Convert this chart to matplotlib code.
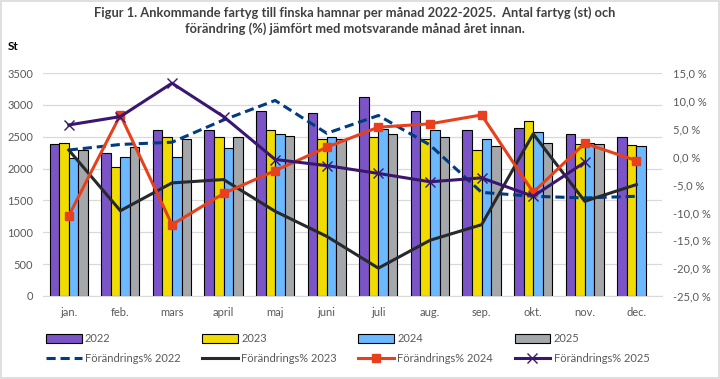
import numpy as np
import matplotlib
matplotlib.use("Agg")
from matplotlib import pyplot as plt

plt.rcParams['font.family'] = ['Lato', 'DejaVu Sans']

months = ['jan.', 'feb.', 'mars', 'april', 'maj', 'juni', 'juli', 'aug.', 'sep.', 'okt.', 'nov.', 'dec.']

# antal fartyg (st)
st_2022 = [2390, 2250, 2610, 2600, 2910, 2880, 3130, 2910, 2610, 2640, 2550, 2500]
st_2023 = [2410, 2030, 2490, 2490, 2610, 2460, 2500, 2470, 2290, 2750, 2390, 2370]
st_2024 = [2160, 2190, 2190, 2330, 2550, 2500, 2620, 2610, 2460, 2570, 2410, 2350]
st_2025 = [2290, 2340, 2470, 2490, 2520, 2470, 2550, 2500, 2360, 2400, 2380, np.nan]

# förändring (%)
pct_2022 = [1.2, 2.2, 2.6, 6.6, 10.1, 4.2, 7.4, 2.1, -6.4, -7.1, -7.4, -7.1]
pct_2023 = [1.2, -9.7, -4.7, -4.1, -9.8, -14.3, -20.0, -15.0, -12.2, 4.1, -8.0, -5.0]
pct_2024 = [-10.6, 7.5, -12.2, -6.6, -2.5, 1.7, 5.3, 5.9, 7.5, -6.4, 2.4, -0.7]
pct_2025 = [5.7, 7.2, 13.2, 7.2, -0.5, -1.6, -3.0, -4.5, -3.8, -7.1, -1.0, np.nan]

bar_colors = ['#7B55C7', '#F0DC00', '#6DB9FF', '#A5A8AA']
line_colors = ['#003C82', '#262A2E', '#E8401C', '#3A1670']

fig = plt.figure(figsize=(7.2, 3.79), dpi=100)
ax = fig.add_axes([0.0597, 0.219, 0.860, 0.588])
ax2 = ax.twinx()

x = np.arange(len(months))
w = 0.185
bars = []
for i, (vals, c, lab) in enumerate(zip([st_2022, st_2023, st_2024, st_2025], bar_colors,
                                      ['2022', '2023', '2024', '2025'])):
    b = ax.bar(x + (i - 1.5) * w, vals, w, color=c, edgecolor='black', linewidth=0.8, label=lab, zorder=2)
    bars.append(b)

ax.set_xlim(-0.5, 11.5)
ax.set_ylim(0, 3500)
ax.set_yticks(np.arange(0, 3501, 500))
ax.grid(axis='y', color='#D9D9D9', linewidth=0.9, zorder=0)
ax.set_axisbelow(True)
ax.set_xticks(x)
ax.set_xticklabels(months)
ax.tick_params(length=0, labelsize=8, labelcolor='#595959', pad=8)
ax.tick_params(axis='y', pad=7)

l1, = ax2.plot(x, pct_2022, color=line_colors[0], lw=2.2, ls=(0, (3, 1.6)), label='Förändrings% 2022')
l2, = ax2.plot(x, pct_2023, color=line_colors[1], lw=2.2, label='Förändrings% 2023')
l3, = ax2.plot(x, pct_2024, color=line_colors[2], lw=2.2, marker='s', ms=6, label='Förändrings% 2024')
l4, = ax2.plot(x, pct_2025, color=line_colors[3], lw=2.2, marker='x', ms=7, mew=1.0, label='Förändrings% 2025')
lines = [l1, l2, l3, l4]

ax2.set_ylim(-25, 15)
ax2.set_yticks(np.arange(-25, 16, 5))
ax2.set_yticklabels([('%.1f %%' % v).replace('.', ',') for v in np.arange(-25, 16, 5)])
ax2.tick_params(length=0, labelsize=8, labelcolor='#595959', pad=8)

for a in (ax, ax2):
    for s in a.spines.values():
        s.set_visible(False)
ax.spines['bottom'].set_visible(True)
ax.spines['bottom'].set_color('#D9D9D9')

fig.text(0.493, 0.945, 'Figur 1. Ankommande fartyg till finska hamnar per månad 2022-2025.  Antal fartyg (st) och\n'
         'förändring (%) jämfört med motsvarande månad året innan.',
         ha='center', va='center', fontsize=9.3, fontweight='bold', color='#404040', linespacing=1.35)
fig.text(0.011, 0.868, 'St', fontsize=8.5, color='black', fontweight='bold')

handles = []
for b, l in zip(bars, lines):
    handles += [b, l]
fig.legend(handles=handles, labels=[h.get_label() for h in handles], ncol=4,
           loc='lower left', bbox_to_anchor=(0.05, 0.014), frameon=False, fontsize=8,
           handlelength=3.2, handleheight=0.8, columnspacing=1.95, handletextpad=0.3,
           labelspacing=0.75, labelcolor='#595959')

fig.patches.append(plt.Rectangle((0.002, 0.003), 0.996, 0.994, transform=fig.transFigure,
                                 fill=False, edgecolor='#D9D9D9', linewidth=1.2))

fig.savefig('out.png', dpi=100)
